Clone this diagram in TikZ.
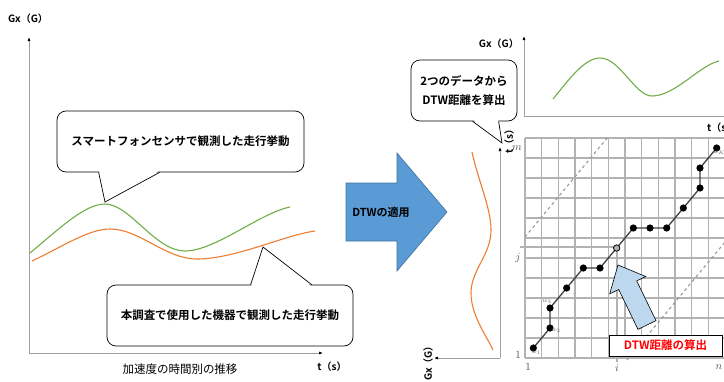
\documentclass[tikz,border=0pt]{standalone}
\usepackage{fontspec}
\setmainfont{Noto Sans CJK JP}[BoldFont={Noto Sans CJK JP Bold}]
\usetikzlibrary{arrows.meta,calc}
\definecolor{cgreen}{HTML}{70AD47}
\definecolor{corange}{HTML}{ED7D31}
\definecolor{cblue}{HTML}{5B9BD5}
\definecolor{cblueb}{HTML}{41719C}
\definecolor{clblue}{HTML}{BDD7EE}
\begin{document}
\begin{tikzpicture}[x=1pt,y=-1pt,
  axis/.style={draw=gray!75, line width=0.7pt, -{Latex[length=4pt,width=3pt,color=black]}},
  callout/.style={draw=black, fill=white, rounded corners=9pt, line width=0.7pt, inner sep=0pt,
    font=\bfseries\fontsize{11.5}{19}\selectfont, align=center},
  axlbl/.style={font=\bfseries\fontsize{10}{12}\selectfont, inner sep=0pt},
  gridl/.style={draw=gray!60, line width=1.3pt},
  small/.style={text=gray!60!black, font=\fontsize{11}{12}\selectfont, inner sep=0pt},
  tiny/.style={text=gray!70!black, font=\fontsize{6}{6}\selectfont, inner sep=0pt},
  curve/.style={line width=1.1pt}]
\useasboundingbox (0,0) rectangle (724,381);

% ---------------- left plot ----------------
\coordinate (lo) at (29,353);
\coordinate (ly) at (29,37);
\coordinate (lx) at (323,353);
\draw[axis] (lo) -- (ly);
\draw[axis] (lo) -- (lx);
\node[axlbl] (lgx) at (28,19) {Gx（G）};
\node[axlbl] (lt) at (332,367) {t（s）};
\node[font=\fontsize{11.5}{13}\selectfont, inner sep=0pt] (lcap) at (180,369) {加速度の時間別の推移};

\draw[cgreen, curve] (30,253) .. controls (60,228) and (85,204) .. (105,204)
  .. controls (130,204) and (155,251) .. (185,251)
  .. controls (215,251) and (260,213) .. (290,207);
\draw[corange, curve] (32,261) .. controls (60,248) and (88,229) .. (110,229)
  .. controls (140,229) and (165,259) .. (197,259)
  .. controls (235,259) and (285,235) .. (315,231);

% callout 1
\node[callout, minimum width=247pt, minimum height=61pt] (c1) at (180.5,141.5) {スマートフォンセンサで観測した走行挙動};
\coordinate (t1) at (105,202);
\fill[white] ($(c1.south west)+(42.5,-1.5)$) -- (t1) -- ($(c1.south west)+(102.5,-1.5)$) -- cycle;
\draw[line width=0.7pt] ($(c1.south west)+(42,0)$) -- (t1) -- ($(c1.south west)+(103,0)$);

% callout 2
\node[callout, minimum width=246pt, minimum height=61pt] (c2) at (230,315.5) {本調査で使用した機器で観測した走行挙動};
\coordinate (t2) at (263,247);
\fill[white] ($(c2.north west)+(144.5,1.5)$) -- (t2) -- ($(c2.north west)+(204.5,1.5)$) -- cycle;
\draw[line width=0.7pt] ($(c2.north west)+(144,0)$) -- (t2) -- ($(c2.north west)+(205,0)$);

% ---------------- big arrow ----------------
\draw[fill=cblue, draw=cblueb, line width=0.6pt]
  (346,183) -- (397,183) -- (397,153) -- (447,212) -- (397,271) -- (397,241) -- (346,241) -- cycle;
\node[font=\bfseries\fontsize{11}{13}\selectfont, inner sep=0pt] (dtwa) at (381,212) {DTWの適用};

% ---------------- top right plot ----------------
\coordinate (to) at (524,116);
\coordinate (ty) at (524,36);
\coordinate (tx) at (730,116);
\draw[axis] (to) -- (ty);
\draw[draw=gray!75, line width=0.7pt] (to) -- (tx);
\node[axlbl, anchor=east] (tgx) at (519,44) {Gx（G）};
\node[axlbl, anchor=west] (tt) at (707,128) {t（s）};
\draw[cgreen, curve] (553,99) .. controls (570,78) and (585,58) .. (600,58)
  .. controls (620,58) and (635,96) .. (652,96)
  .. controls (675,96) and (700,65) .. (719,61);

% callout 3
\node[callout, minimum width=106pt, minimum height=61pt] (c3) at (464,90.5) {2つのデータから\\DTW距離を算出};
\coordinate (t3) at (502,143);
\fill[white] ($(c3.south west)+(62.5,-1.5)$) -- (t3) -- ($(c3.south west)+(87.5,-1.5)$) -- cycle;
\draw[line width=0.7pt] ($(c3.south west)+(62,0)$) -- (t3) -- ($(c3.south west)+(88,0)$);

% ---------------- rotated left plot ----------------
\coordinate (vo) at (500,358);
\coordinate (vy) at (500,147);
\coordinate (vx) at (434,358);
\draw[axis] (vo) -- (vy);
\draw[axis] (vo) -- (vx);
\node[axlbl, rotate=90] (vgx) at (428,361) {Gx（G）};
\node[axlbl, rotate=90] (vt) at (509,139) {t（s）};
\draw[corange, curve] (472,152) .. controls (478,180) and (491,208) .. (491,230)
  .. controls (491,255) and (471,270) .. (471,293)
  .. controls (471,315) and (486,335) .. (493,350);

% ---------------- DTW grid ----------------
\foreach \k in {0,...,12} \draw[gridl] ({525+\k*200/12},138) -- ({525+\k*200/12},358);
\foreach \k in {0,...,11} \draw[gridl] (525,{138+\k*20}) -- (725,{138+\k*20});
\draw[gridl] (520,247) -- (617,247);
\draw[gridl] (617,247) -- (617,362);
\draw[gray!80, dashed, line width=1.1pt] (525,237) -- (608,137);
\draw[gray!80, dashed, line width=1.1pt] (627,360) -- (735,230);

\node[small] (g1a) at (518,355) {$1$};
\node[small] (gj) at (518,258) {$j$};
\node[small] (gm) at (517,148) {$m$};
\node[small] (g1b) at (528,367) {$1$};
\node[small] (gi) at (617,368) {$i$};
\node[small] (gn) at (719,367) {$n$};

\foreach \c/\r [count=\n] in {0/0,1/1,1/2,2/3,3/4,4/4,5/5,6/6,7/6,8/6,9/7,10/8,10/9,11/10}
  \coordinate (p\n) at ({533.33+\c*16.667},{348-\r*20});
\draw[black!75, line width=1.3pt] (p1) -- (p2) -- (p3) -- (p4) -- (p5) -- (p6) -- (p7) -- (p8)
  -- (p9) -- (p10) -- (p11) -- (p12) -- (p13) -- (p14);
\foreach \n in {1,2,3,4,5,6,8,9,10,11,12,13,14} \fill[black] (p\n) circle (3.6);
\draw[black, fill=gray!60, line width=0.8pt] (p7) circle (3.2);
\node[tiny] (w1) at (536,353) {$w_1$};
\node[tiny] (w2) at (556,331) {$w_2$};
\node[tiny] (w3) at (547,302) {$w_3$};
\node[tiny] (wd) at (570,294) {$\cdots$};
\node[tiny] (wk) at (719,153) {$w_K$};

% light blue arrow
\draw[fill=clblue, draw=black, line width=0.6pt]
  (618,265) -- (645.7,276.5) -- (636.7,280.9) -- (656,320.6) -- (638,329.4)
  -- (618.7,289.5) -- (609.7,293.9) -- cycle;

% red label
\node[draw=black, fill=white, line width=0.7pt, minimum width=113pt, minimum height=21pt,
  inner sep=0pt, text=red, font=\bfseries\fontsize{11.5}{13}\selectfont] (dtwd) at (665.5,345.5) {DTW距離の算出};
\end{tikzpicture}
\end{document}
